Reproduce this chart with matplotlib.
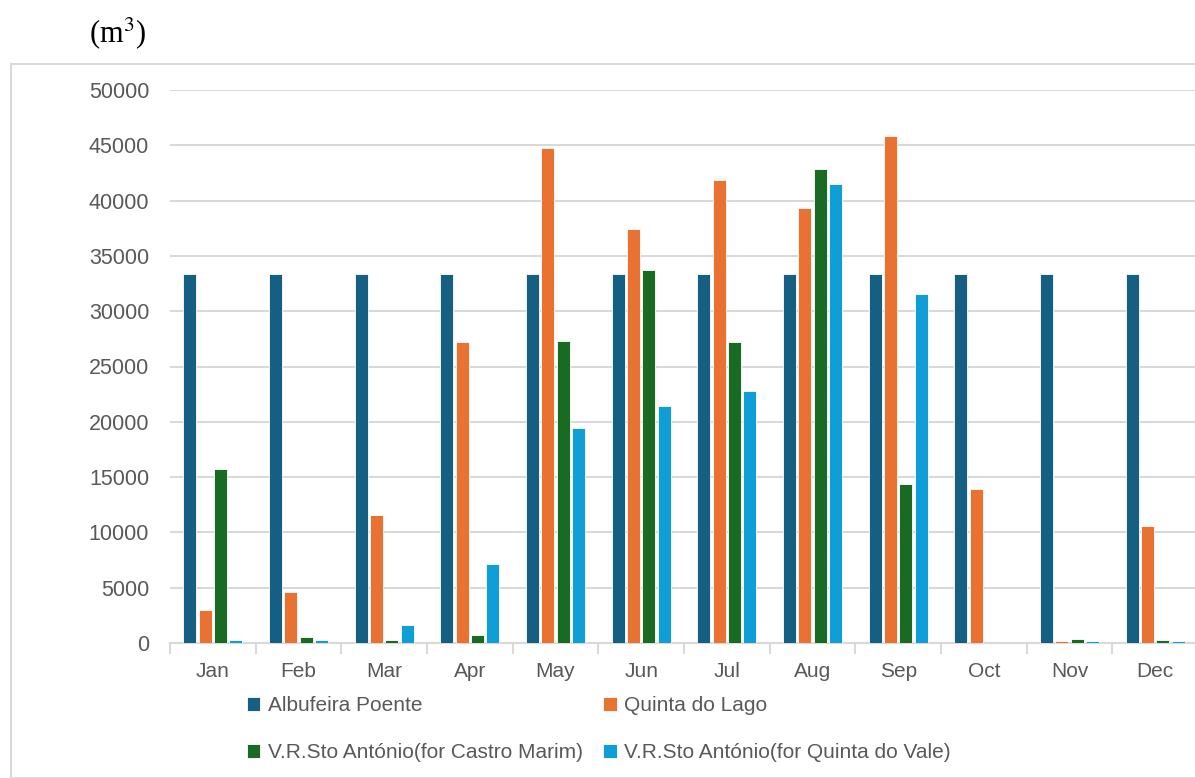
import matplotlib
matplotlib.use("Agg")
import matplotlib.pyplot as plt
from matplotlib.patches import Rectangle
import numpy as np

months = ["Jan", "Feb", "Mar", "Apr", "May", "Jun", "Jul", "Aug", "Sep", "Oct", "Nov", "Dec"]
series_names = [
    "Albufeira Poente",
    "Quinta do Lago",
    "V.R.Sto António(for Castro Marim)",
    "V.R.Sto António(for Quinta do Vale)",
]
albufeira_poente = [33400] * 12
quinta_do_lago = [3000, 4600, 11600, 27200, 44800, 37400, 41900, 39300, 45800, 13900, 150, 10600]
vrsa_castro_marim = [15700, 500, 300, 700, 27300, 33700, 27200, 42900, 14400, 0, 400, 300]
vrsa_quinta_do_vale = [300, 300, 1600, 7100, 19400, 21400, 22800, 41500, 31600, 0, 200, 200]
y_ticks = list(range(0, 50001, 5000))

colors = ["#156082", "#E97132", "#196B24", "#0F9ED5"]
all_series = [albufeira_poente, quinta_do_lago, vrsa_castro_marim, vrsa_quinta_do_vale]

W, H = 1195, 778
fig = plt.figure(figsize=(W / 100, H / 100), dpi=100)

# outer chart frame
fig.patches.append(Rectangle((11 / W, 0), 1.2, (H - 64) / H, transform=fig.transFigure,
                             fill=False, edgecolor="#D9D9D9", linewidth=1.5))

left_px, right_px, top_px, bot_px = 170, 1198, 90, 643
ax = fig.add_axes([left_px / W, 1 - bot_px / H, (right_px - left_px) / W, (bot_px - top_px) / H])

x = np.arange(len(months))
pitch = 0.179
width = 0.15
for i, (vals, c, name) in enumerate(zip(all_series, colors, series_names)):
    ax.bar(x + (i - 1.5) * pitch, vals, width=width, color=c, edgecolor="white",
           linewidth=0.6, label=name, zorder=3)

ax.set_xlim(-0.5, len(months) - 0.5)
ax.set_ylim(0, 50000)
ax.set_yticks(y_ticks)
ax.set_yticklabels([str(v) for v in y_ticks])
ax.yaxis.grid(True, color="#D9D9D9", linewidth=1.5, zorder=0)
ax.set_axisbelow(True)
for s in ["left", "right", "top"]:
    ax.spines[s].set_visible(False)
ax.spines["bottom"].set_color("#D9D9D9")
ax.spines["bottom"].set_linewidth(1.5)

ax.set_xticks(x)
ax.set_xticklabels(months)
ax.set_xticks(np.arange(-0.5, len(months), 1.0), minor=True)
ax.tick_params(axis="x", which="major", length=0, pad=14, labelsize=15, labelcolor="#595959")
ax.tick_params(axis="x", which="minor", length=8, width=1.5, color="#D9D9D9", direction="out")
ax.tick_params(axis="y", length=0, pad=15, labelsize=15.5, labelcolor="#595959")
for lab in ax.get_xticklabels() + ax.get_yticklabels():
    lab.set_fontfamily("Liberation Sans")

# unit label
fig.text(89 / W, 1 - 33 / H, r"(m$^{3}$)", fontsize=22, family="Liberation Serif",
         va="center", ha="left", math_fontfamily="stix")

# legend: two rows of two entries
handles, labels = ax.get_legend_handles_labels()
order = [0, 2, 1, 3]
leg = fig.legend([handles[k] for k in order], [labels[k] for k in order],
                 ncol=2, loc="center left", bbox_to_anchor=(228 / W, 1 - 729 / H),
                 frameon=False, handlelength=0.65, handleheight=0.65, handletextpad=0.35,
                 labelspacing=1.35, columnspacing=1.0,
                 prop={"family": ["Liberation Sans"], "size": 15})
for t in leg.get_texts():
    t.set_color("#595959")

fig.savefig("out.png", dpi=100)
